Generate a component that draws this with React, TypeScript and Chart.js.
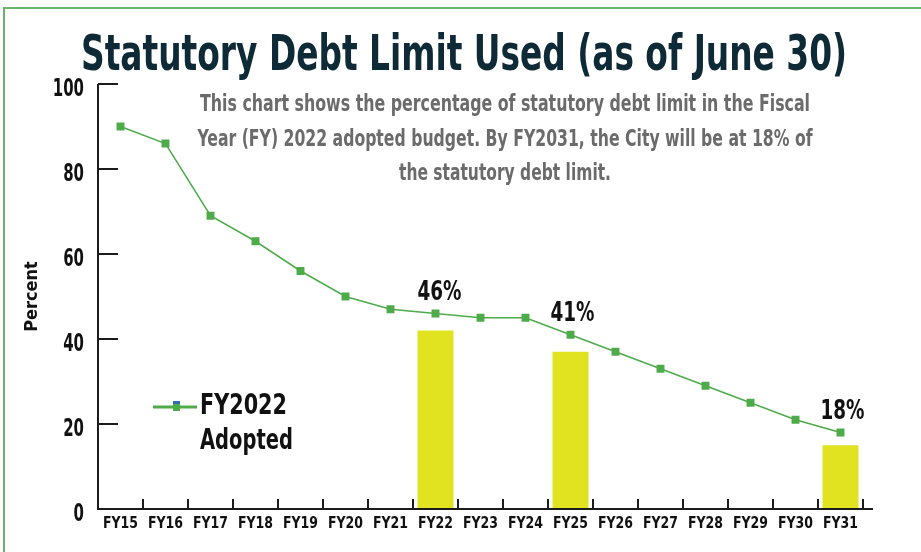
import React, { useEffect, useRef } from 'react';
import { Chart, registerables } from 'chart.js';

Chart.register(...registerables);

const FONT = '"Liberation Sans Narrow", "DejaVu Sans Condensed", "Roboto Condensed", Roboto, sans-serif';

const categories = ['FY15', 'FY16', 'FY17', 'FY18', 'FY19', 'FY20', 'FY21', 'FY22', 'FY23', 'FY24', 'FY25', 'FY26', 'FY27', 'FY28', 'FY29', 'FY30', 'FY31'];
const adoptedValues = [90, 86, 69, 63, 56, 50, 47, 46, 45, 45, 41, 37, 33, 29, 25, 21, 18];
const highlightValues = [null, null, null, null, null, null, null, 42, null, null, 37, null, null, null, null, null, 15];
const calloutIndices = [7, 10, 16];
const yTicks = [0, 20, 40, 60, 80, 100];
const titleText = 'Statutory Debt Limit Used (as of June 30)';
const subtitleLines = [
  'This chart shows the percentage of statutory debt limit in the Fiscal',
  'Year (FY) 2022 adopted budget. By FY2031, the City will be at 18% of',
  'the statutory debt limit.',
];
const legendLines = ['FY2022', 'Adopted'];
const yAxisTitle = 'Percent';

const GREEN = '#4eab4a';
const YELLOW = '#e1e321';

const decorPlugin = {
  id: 'decor',
  afterDraw(chart: any) {
    const ctx = chart.ctx as CanvasRenderingContext2D;
    const xs = chart.scales.x;
    const ys = chart.scales.y;
    const area = chart.chartArea;
    ctx.save();

    // frame
    ctx.fillStyle = '#6cb46c';
    ctx.fillRect(3, 7, 2, 545);
    ctx.fillRect(3, 7, 918, 2);

    // title
    ctx.fillStyle = '#0f2a37';
    ctx.textAlign = 'center';
    ctx.textBaseline = 'alphabetic';
    ctx.font = `bold 50px ${FONT}`;
    ctx.fillText(titleText, 464, 70, 766);

    // subtitle
    ctx.fillStyle = '#6b6b6b';
    ctx.font = `bold 23px ${FONT}`;
    const subW = [610, 615, 212];
    const subY = [111, 146, 180];
    subtitleLines.forEach((t, i) => ctx.fillText(t, 505, subY[i], subW[i]));

    // axes
    ctx.strokeStyle = '#1c1c1c';
    ctx.lineWidth = 2;
    ctx.beginPath();
    ctx.moveTo(area.left, area.top);
    ctx.lineTo(area.left, area.bottom);
    ctx.lineTo(area.right + 10, area.bottom);
    ctx.stroke();
    ctx.beginPath();
    yTicks.forEach((v) => {
      const y = Math.round(ys.getPixelForValue(v));
      ctx.moveTo(area.left, y);
      ctx.lineTo(area.left + 20, y);
    });
    const step = xs.getPixelForValue(1) - xs.getPixelForValue(0);
    categories.forEach((_c, i) => {
      const x = Math.round(xs.getPixelForValue(i) + step / 2);
      ctx.moveTo(x, area.bottom);
      ctx.lineTo(x, area.bottom - 10);
    });
    ctx.stroke();

    // y tick labels (condensed)
    ctx.fillStyle = '#111';
    ctx.font = `bold 25px ${FONT}`;
    ctx.textAlign = 'right';
    ctx.textBaseline = 'middle';
    ys.ticks.forEach((t: any) => {
      const label = String(t.value);
      ctx.fillText(label, 84, ys.getPixelForValue(t.value) + 5, 10.4 * label.length);
    });

    // x tick labels (condensed)
    ctx.font = `bold 16px ${FONT}`;
    ctx.textAlign = 'center';
    ctx.textBaseline = 'alphabetic';
    categories.forEach((c, i) => {
      ctx.fillText(c, xs.getPixelForValue(i), 528, 35);
    });

    // callouts
    const meta = chart.getDatasetMeta(0);
    ctx.fillStyle = '#111';
    ctx.font = `bold 27px ${FONT}`;
    ctx.textAlign = 'center';
    calloutIndices.forEach((i) => {
      const pt = meta.data[i];
      ctx.fillText(`${adoptedValues[i]}%`, pt.x + (i === 7 ? 4 : 2), pt.y - 14, 44);
    });

    // legend
    const ly = ys.getPixelForValue(24);
    ctx.strokeStyle = GREEN;
    ctx.lineWidth = 3;
    ctx.beginPath();
    ctx.moveTo(153, ly);
    ctx.lineTo(197, ly);
    ctx.stroke();
    ctx.fillStyle = '#2f6db5';
    ctx.fillRect(173, ly - 6, 7, 3);
    ctx.fillStyle = GREEN;
    ctx.fillRect(173, ly - 3, 7, 7);
    ctx.fillStyle = '#111';
    ctx.textAlign = 'left';
    ctx.font = `bold 28px ${FONT}`;
    ctx.fillText(legendLines[0], 200, ly + 7, 87);
    ctx.fillText(legendLines[1], 200, ly + 42, 93);

    ctx.restore();
  },
};

export default function App() {
  const ref = useRef<HTMLCanvasElement>(null);
  useEffect(() => {
    if (!ref.current) return;
    const chart = new Chart(ref.current, {
      type: 'bar',
      data: {
        labels: categories,
        datasets: [
          {
            type: 'line',
            label: 'FY2022 Adopted',
            data: adoptedValues,
            borderColor: GREEN,
            backgroundColor: GREEN,
            borderWidth: 1.5,
            pointStyle: 'rect',
            pointRadius: 5.6,
            pointBorderWidth: 0,
            pointBackgroundColor: GREEN,
            tension: 0,
            order: 0,
          } as any,
          {
            type: 'bar',
            label: 'Highlight',
            data: highlightValues,
            backgroundColor: YELLOW,
            borderWidth: 0,
            barPercentage: 0.8,
            categoryPercentage: 1.0,
            order: 1,
          },
        ],
      },
      options: {
        responsive: false,
        animation: false,
        layout: { padding: { left: 0, right: 58, top: 84, bottom: 0 } },
        plugins: {
          legend: { display: false },
          title: { display: false },
          tooltip: { enabled: false },
        },
        scales: {
          x: {
            type: 'category',
            offset: true,
            grid: { display: false, drawTicks: false },
            border: { display: false },
            ticks: { display: false, autoSkip: false },
            afterFit: (scale: any) => {
              scale.height = 43;
            },
          },
          y: {
            min: 0,
            max: 100,
            grid: { display: false, drawTicks: false },
            border: { display: false },
            ticks: { display: false, stepSize: 20 },
            title: {
              display: true,
              text: yAxisTitle,
              color: '#111',
              font: { family: FONT, size: 18, weight: 'bold' },
              padding: { top: 22, bottom: 0 },
            },
            afterFit: (scale: any) => {
              scale.width = 98;
            },
          },
        },
      },
      plugins: [decorPlugin],
    });
    return () => chart.destroy();
  }, []);
  return (
    <div style={{ position: 'absolute', left: 0, top: 0, width: 921, height: 552, background: '#fff' }}>
      <canvas ref={ref} width={921} height={552} style={{ display: 'block', width: 921, height: 552 }} />
    </div>
  );
}
